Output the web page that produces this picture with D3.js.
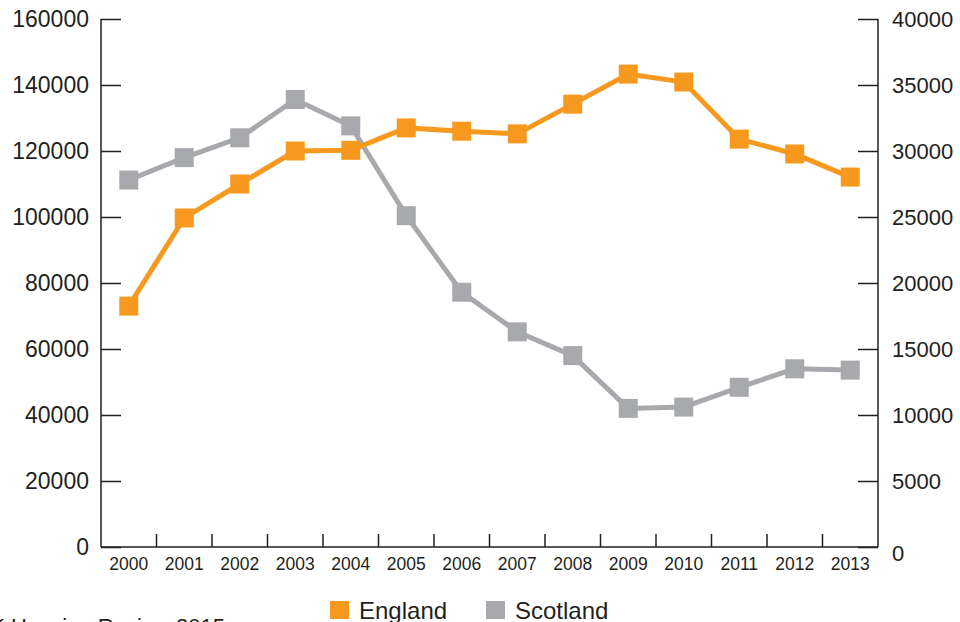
<!DOCTYPE html>
<html><head><meta charset="utf-8">
<script src="https://cdn.jsdelivr.net/npm/d3@7"></script>
<style>
html,body{margin:0;padding:0;background:#fff;overflow:hidden}
svg text{font-family:"Liberation Sans",Arial,Helvetica,sans-serif;fill:#231f20}
</style></head>
<body>
<svg id="chart" width="960" height="622"></svg>
<script>
const years = ["2000","2001","2002","2003","2004","2005","2006","2007","2008","2009","2010","2011","2012","2013"];
const england = [73000,99700,110000,120000,120200,127000,126000,125200,134200,143300,140900,123600,119100,112100];
const scotland = [27800,29500,31000,33900,31900,25100,19300,16300,14500,10500,10600,12100,13500,13400];
const leftTicks = [0,20000,40000,60000,80000,100000,120000,140000,160000];
const rightTicks = [0,5000,10000,15000,20000,25000,30000,35000,40000];
const seriesNames = ["England","Scotland"];
const colors = {England:"#f7991f", Scotland:"#a7a9ac"};
const source = "UK Housing Review 2015";

const svg = d3.select("#chart");
const L = 101, R = 878, T = 19, B = 547;

const x = d3.scaleBand().domain(years).range([L, R]).padding(0);
const yL = d3.scaleLinear().domain([0,160000]).range([B, T]);
const yR = d3.scaleLinear().domain([0,40000]).range([B, T]);

const axisColor = "#231f20";

// left axis
const gL = svg.append("g").attr("transform", `translate(${L},0)`)
  .call(d3.axisRight(yL).tickValues(leftTicks).tickSize(20).tickFormat(d3.format("d")));
gL.selectAll("text").remove();
gL.selectAll("line,path").attr("stroke", axisColor).attr("stroke-width", 1.5);
gL.select(".domain").attr("d", `M0,${T}V${B}`);
svg.append("g").selectAll("text").data(leftTicks).join("text")
  .attr("x", 89).attr("y", d => yL(d)).attr("dy", "0.36em")
  .attr("text-anchor", "end").attr("font-size", 23).text(d => d);

// right axis
const gR = svg.append("g").attr("transform", `translate(${R},0)`)
  .call(d3.axisLeft(yR).tickValues(rightTicks).tickSize(20));
gR.selectAll("text").remove();
gR.selectAll("line,path").attr("stroke", axisColor).attr("stroke-width", 1.5);
gR.select(".domain").attr("d", `M0,${T}V${B}`);
svg.append("g").selectAll("text").data(rightTicks).join("text")
  .attr("x", 892).attr("y", d => yR(d) + (d === 0 ? 6 : 0)).attr("dy", "0.36em")
  .attr("text-anchor", "start").attr("font-size", 22).text(d => d);

// bottom axis
const gB = svg.append("g").attr("transform", `translate(0,${B})`);
gB.append("line").attr("x1", L).attr("x2", R).attr("y1", 0).attr("y2", 0)
  .attr("stroke", axisColor).attr("stroke-width", 1.5);
gB.selectAll("line.tk").data(years.slice(1)).join("line").attr("class","tk")
  .attr("x1", d => x(d)).attr("x2", d => x(d)).attr("y1", 0).attr("y2", -13)
  .attr("stroke", axisColor).attr("stroke-width", 1.5);
gB.selectAll("text").data(years).join("text")
  .attr("x", d => x(d) + x.bandwidth()/2).attr("y", 23)
  .attr("text-anchor", "middle").attr("font-size", 17.5).text(d => d);

// series
const cx = d => x(d) + x.bandwidth()/2;
function drawSeries(vals, scale, color) {
  const pts = years.map((yr,i) => [cx(yr), scale(vals[i])]);
  svg.append("path").attr("d", d3.line()(pts)).attr("fill","none")
    .attr("stroke", color).attr("stroke-width", 5).attr("stroke-linejoin","miter");
  svg.append("g").selectAll("rect").data(pts).join("rect")
    .attr("x", p => p[0]-9.5).attr("y", p => p[1]-9.5)
    .attr("width", 19).attr("height", 19).attr("fill", color);
}
drawSeries(scotland, yR, colors.Scotland);
drawSeries(england, yL, colors.England);

// legend
const legX = [330, 486];
const lg = svg.append("g");
seriesNames.forEach((n,i) => {
  lg.append("rect").attr("x", legX[i]).attr("y", 601).attr("width", 19).attr("height", 18).attr("fill", colors[n]);
  lg.append("text").attr("x", legX[i] + 29).attr("y", 619).attr("font-size", 24).text(n);
});

// source
svg.append("text").attr("x", 225).attr("y", 634).attr("text-anchor", "end")
  .attr("font-size", 22).text(source);
</script>
</body></html>
